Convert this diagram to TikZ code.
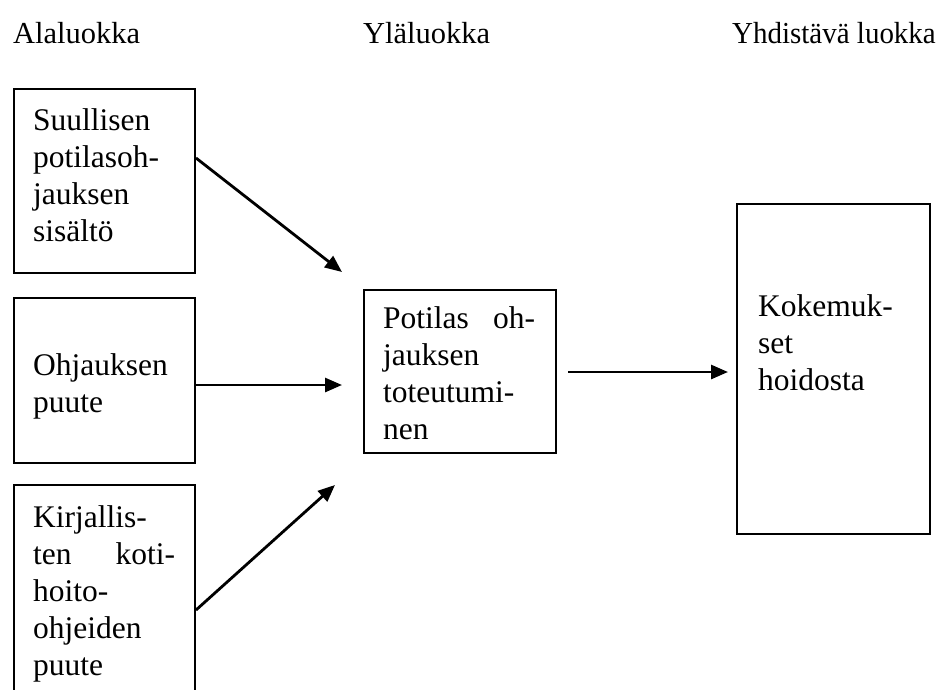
\documentclass[tikz,border=0pt]{standalone}
\usepackage{fontspec}
\setmainfont{Liberation Serif}
\usetikzlibrary{arrows.meta}
\tikzset{
  box/.style={draw, line width=2pt, rectangle, inner sep=0pt, anchor=north west},
  hdr/.style={anchor=base west, inner sep=0pt, font=\fontsize{30.5}{37}\selectfont},
  lbl/.style={anchor=base west, inner sep=0pt, align=left, text width=220pt,
              font=\fontsize{31.5}{37}\selectfont},
  conn/.style={line width=2.8pt, -{Triangle[length=17pt,width=14pt]}}
}
\begin{document}
\begin{tikzpicture}[x=1pt,y=-1pt]
\clip (0,0) rectangle (939,689);
\fill[white] (0,0) rectangle (939,689);
% headers
\node[hdr] (h1) at (13,43) {Alaluokka};
\node[hdr] (h2) at (363,43) {Yläluokka};
\node[hdr, anchor=base east] (h3) at (936,43) {\scalebox{0.95}[1]{Yhdistävä luokka}};
% boxes
\node[box, minimum width=181pt, minimum height=184pt] (b1) at (13,88) {};
\node[box, minimum width=181pt, minimum height=165pt] (b2) at (13,297) {};
\node[box, minimum width=181pt, minimum height=240pt] (b3) at (13,484) {};
\node[box, minimum width=192pt, minimum height=163pt] (m) at (363,289) {};
\node[box, minimum width=193pt, minimum height=330pt] (r) at (736,203) {};
% texts
\node[lbl] (t1) at (33,130) {Suullisen\\potilasoh-\\jauksen\\sisältö};
\node[lbl] (t2) at (33,375) {Ohjauksen\\puute};
\node[lbl] (t3) at (33,527) {Kirjallis-\\\makebox[142pt][l]{ten\hfill koti-}\\hoito-\\ohjeiden\\puute};
\node[lbl] (tm) at (383,328) {\makebox[152pt][l]{Potilas\hfill oh-}\\jauksen\\toteutumi-\\nen};
\node[lbl] (tr) at (758,316) {Kokemuk-\\set\\hoidosta};
% connector ends
\coordinate (a1s) at (b1.east |- 0,158);
\coordinate (a1e) at (342,272);
\coordinate (a2s) at (b2.east |- 0,385);
\coordinate (a2e) at (342,385);
\coordinate (a3s) at (b3.east |- 0,610);
\coordinate (a3e) at (335,485);
\coordinate (a4s) at (568,372);
\coordinate (a4e) at (728,372);
\draw[conn] (a1s) -- (a1e);
\draw[conn] (a2s) -- (a2e);
\draw[conn] (a3s) -- (a3e);
\draw[conn] (a4s) -- (a4e);
\end{tikzpicture}
\end{document}
